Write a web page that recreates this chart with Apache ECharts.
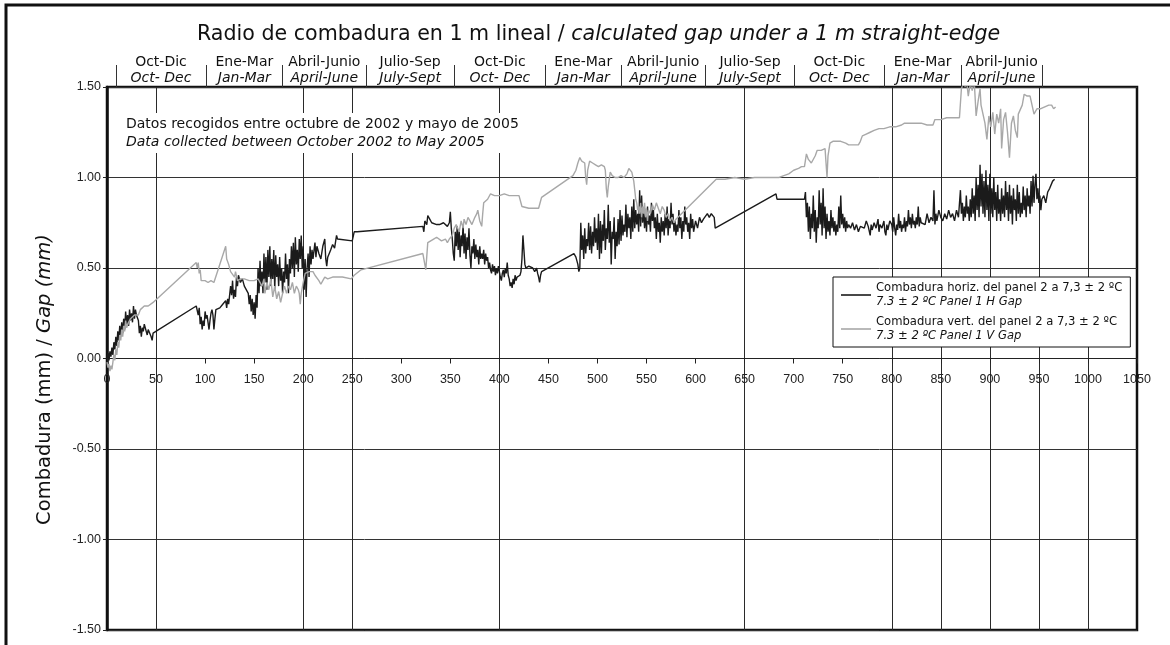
<!DOCTYPE html>
<html>
<head>
<meta charset="utf-8">
<script src="https://cdn.jsdelivr.net/npm/echarts@6/dist/echarts.min.js"></script>
<style>
  html, body { margin: 0; padding: 0; background: #fff; }
  #gap_chart { width: 1170px; height: 645px; }
</style>
</head>
<body>
<div id="gap_chart"></div>
<script>
// limites de los trimestres (eje superior), en dias
const quarterBounds = [9, 101, 179, 264, 354, 447, 524, 610, 701, 792, 871, 953];
const quarterEs = ['Oct-Dic', 'Ene-Mar', 'Abril-Junio', 'Julio-Sep', 'Oct-Dic', 'Ene-Mar', 'Abril-Junio', 'Julio-Sep', 'Oct-Dic', 'Ene-Mar', 'Abril-Junio'];
const quarterEn = ['Oct- Dec', 'Jan-Mar', 'April-June', 'July-Sept', 'Oct- Dec', 'Jan-Mar', 'April-June', 'July-Sept', 'Oct- Dec', 'Jan-Mar', 'April-June'];

// lineas verticales del grafico
const gridLineXs = [50, 200, 250, 400, 650, 800, 850, 900, 950, 1000];

// Combadura horiz. del panel 2 (dia, mm)
const horizGap = [
  [0,0.00],[1,0.03],[2,-0.01],[3,0.04],[4,0.01],[5,0.06],[6,0.02],[7,0.09],[8,0.05],[9,0.12],[10,0.07],[11,0.15],[12,0.10],[13,0.18],[14,0.12],[15,0.20],[16,0.14],[17,0.22],[18,0.16],[19,0.26],[20,0.19],[21,0.24],[22,0.18],[23,0.27],[24,0.21],[25,0.25],[26,0.20],[27,0.29],[28,0.22],[29,0.27],[30,0.24],[32,0.21],[33,0.14],[34,0.18],[35,0.12],[36,0.17],[37,0.15],[38,0.19],[40,0.18],[41,0.13],[42,0.16],[44,0.17],[45,0.12],[46,0.10],[47,0.14],
  [91,0.29],[93,0.24],[94,0.28],[95,0.19],[96,0.23],[97,0.16],[98,0.21],[99,0.18],[100,0.26],[101,0.22],[102,0.24],[103,0.20],[104,0.16],[105,0.21],[106,0.25],[107,0.27],[108,0.24],[109,0.16],[110,0.22],[111,0.27],[112,0.26],[115,0.28],[118,0.30],[121,0.32],[122,0.28],[123,0.33],[124,0.30],[126,0.40],[127,0.35],[128,0.43],[129,0.33],[130,0.38],[131,0.34],[132,0.45],[133,0.40],[134,0.46],[136,0.42],[138,0.44],[140,0.40],[142,0.39],[144,0.36],[145,0.30],[146,0.35],[147,0.26],[148,0.33],[149,0.24],[150,0.31],[151,0.22],[152,0.35],[153,0.28],[154,0.50],[155,0.36],[156,0.54],[157,0.40],[158,0.48],[159,0.36],[160,0.58],[161,0.42],[162,0.56],[163,0.38],[164,0.60],[165,0.45],[166,0.62],[167,0.40],[168,0.55],[169,0.44],[170,0.60],[171,0.38],[172,0.57],[173,0.45],[174,0.52],[175,0.40],[176,0.56],[177,0.43],[178,0.50],[179,0.36],[180,0.48],[181,0.42],[182,0.58],[183,0.44],[184,0.52],[185,0.36],[186,0.55],[187,0.47],[188,0.62],[189,0.50],[190,0.64],[191,0.45],[192,0.67],[193,0.52],[194,0.60],[195,0.48],[196,0.66],[197,0.55],[198,0.68],[199,0.50],[200,0.62],[201,0.38],[202,0.55],[203,0.34],[204,0.50],[205,0.58],[206,0.45],[207,0.62],[208,0.52],[209,0.60],[210,0.55],[212,0.64],[213,0.56],[214,0.62],[216,0.58],[218,0.55],[220,0.62],[222,0.66],[223,0.55],[224,0.51],[225,0.56],[226,0.55],[228,0.60],[230,0.63],[232,0.61],[234,0.68],[235,0.66],[236,0.65],[250,0.65],[251,0.66],[252,0.70],[255,0.70],
  [322,0.73],[323,0.70],[324,0.76],[326,0.74],[327,0.79],[329,0.77],[331,0.75],[333,0.76],[336,0.74],[339,0.74],[341,0.73],[343,0.75],[345,0.74],[347,0.73],[349,0.75],[350,0.81],[351,0.72],[352,0.66],[353,0.58],[354,0.54],[355,0.70],[356,0.62],[357,0.73],[358,0.60],[359,0.71],[360,0.56],[361,0.68],[362,0.62],[363,0.74],[364,0.58],[365,0.69],[366,0.55],[367,0.67],[368,0.60],[369,0.72],[370,0.57],[371,0.50],[372,0.62],[373,0.58],[374,0.66],[375,0.55],[376,0.63],[377,0.56],[378,0.60],[379,0.52],[380,0.62],[381,0.55],[382,0.58],[383,0.55],[384,0.60],[385,0.52],[386,0.58],[387,0.54],[388,0.56],[389,0.50],[390,0.53],[391,0.49],[392,0.47],[393,0.52],[394,0.48],[395,0.51],[396,0.46],[397,0.50],[398,0.47],[399,0.51],[400,0.48],[401,0.45],[402,0.43],[403,0.47],[404,0.49],[405,0.45],[406,0.50],[407,0.47],[408,0.53],[409,0.46],[410,0.44],[411,0.40],[412,0.42],[413,0.39],[414,0.44],[415,0.41],[416,0.46],[417,0.43],[418,0.45],[419,0.44],[420,0.45],[421,0.46],[422,0.48],[423,0.55],[424,0.68],[425,0.60],[426,0.52],[427,0.50],[428,0.50],[430,0.51],[432,0.52],[434,0.50],[436,0.48],[438,0.50],[439,0.47],[440,0.45],[441,0.42],[442,0.46],[443,0.48],[445,0.48],
  [476,0.58],[478,0.56],[480,0.52],[481,0.48],[482,0.50],[483,0.75],[484,0.60],[485,0.68],[486,0.55],[487,0.72],[488,0.58],[489,0.66],[490,0.62],[491,0.75],[492,0.60],[493,0.73],[494,0.58],[495,0.70],[496,0.62],[497,0.78],[498,0.64],[499,0.72],[500,0.60],[501,0.80],[502,0.55],[503,0.76],[504,0.58],[505,0.74],[506,0.65],[507,0.82],[508,0.60],[509,0.72],[510,0.66],[511,0.85],[512,0.64],[513,0.76],[514,0.52],[515,0.70],[516,0.66],[517,0.78],[518,0.55],[519,0.70],[520,0.62],[521,0.77],[522,0.63],[523,0.82],[524,0.65],[525,0.79],[526,0.68],[527,0.74],[528,0.70],[529,0.85],[530,0.67],[531,0.80],[532,0.72],[533,0.78],[534,0.66],[535,0.84],[536,0.70],[537,0.88],[538,0.72],[539,0.82],[540,0.74],[541,0.80],[542,0.70],[543,0.93],[544,0.73],[545,0.90],[546,0.75],[547,0.82],[548,0.72],[549,0.80],[550,0.70],[551,0.84],[552,0.74],[553,0.79],[554,0.70],[555,0.86],[556,0.76],[557,0.82],[558,0.72],[559,0.78],[560,0.66],[561,0.80],[562,0.70],[563,0.75],[564,0.64],[565,0.78],[566,0.70],[567,0.76],[568,0.68],[569,0.80],[570,0.72],[571,0.84],[572,0.68],[573,0.77],[574,0.72],[575,0.86],[576,0.74],[577,0.80],[578,0.70],[579,0.76],[580,0.68],[581,0.74],[582,0.70],[583,0.82],[584,0.72],[585,0.78],[586,0.66],[587,0.76],[588,0.70],[589,0.84],[590,0.74],[591,0.78],[592,0.70],[593,0.75],[594,0.66],[595,0.80],[596,0.72],[597,0.77],[598,0.70],[600,0.76],[602,0.72],[604,0.78],[606,0.75],[608,0.77],[610,0.76],[612,0.80],[614,0.78],[616,0.80],[618,0.79],[619,0.78],[620,0.72],[621,0.73],
  [682,0.91],[683,0.88],[711,0.88],[712,0.92],[713,0.78],[714,0.86],[715,0.70],[716,0.84],[717,0.66],[718,0.80],[719,0.72],[720,0.90],[721,0.70],[722,0.82],[723,0.64],[724,0.78],[725,0.72],[726,0.93],[727,0.74],[728,0.86],[729,0.68],[730,0.94],[731,0.72],[732,0.84],[733,0.66],[734,0.80],[735,0.70],[736,0.76],[737,0.68],[738,0.82],[739,0.72],[740,0.78],[741,0.70],[742,0.76],[743,0.68],[744,0.74],[745,0.70],[746,0.84],[747,0.72],[748,0.90],[749,0.74],[750,0.80],[751,0.72],[752,0.78],[753,0.70],[754,0.76],[755,0.72],[756,0.74],[758,0.72],[760,0.75],[762,0.71],[764,0.74],[766,0.70],[768,0.73],[770,0.74],[772,0.72],[774,0.76],[776,0.73],[778,0.68],[779,0.74],[780,0.71],[782,0.75],[784,0.72],[786,0.77],[787,0.70],[788,0.74],[790,0.72],[792,0.76],[793,0.70],[794,0.68],[795,0.74],[796,0.71],[798,0.76],[800,0.74],[801,0.70],[802,0.78],[803,0.72],[804,0.68],[805,0.74],[806,0.71],[807,0.80],[808,0.72],[809,0.76],[810,0.70],[811,0.74],[812,0.72],[813,0.78],[814,0.70],[815,0.76],[816,0.73],[817,0.82],[818,0.74],[819,0.78],[820,0.72],[821,0.80],[822,0.74],[823,0.76],[824,0.72],[825,0.78],[826,0.74],[827,0.84],[828,0.73],[829,0.78],[830,0.75],[832,0.76],[834,0.74],[836,0.80],[838,0.75],[840,0.78],[842,0.76],[843,0.93],[844,0.74],[845,0.80],[846,0.76],[848,0.82],[850,0.78],[852,0.76],[854,0.80],[856,0.77],[858,0.82],[860,0.78],[862,0.80],[864,0.76],[866,0.82],[868,0.78],[870,0.93],[871,0.80],[872,0.86],[873,0.76],[874,0.84],[875,0.78],[876,0.90],[877,0.80],[878,0.84],[879,0.76],[880,0.88],[881,0.78],[882,0.94],[883,0.80],[884,0.90],[885,0.76],[886,1.00],[887,0.82],[888,0.96],[889,0.78],[890,1.07],[891,0.84],[892,1.02],[893,0.80],[894,0.98],[895,0.78],[896,1.04],[897,0.82],[898,0.96],[899,0.76],[900,1.02],[901,0.80],[902,0.94],[903,0.78],[904,1.00],[905,0.82],[906,0.92],[907,0.76],[908,0.96],[909,0.80],[910,0.88],[911,0.76],[912,0.94],[913,0.80],[914,0.90],[915,0.78],[916,0.98],[917,0.82],[918,0.92],[919,0.76],[920,0.96],[921,0.80],[922,0.90],[923,0.74],[924,0.94],[925,0.82],[926,0.88],[927,0.76],[928,0.96],[929,0.80],[930,0.92],[931,0.78],[932,0.86],[933,0.80],[934,0.95],[935,0.82],[936,0.90],[937,0.78],[938,0.94],[939,0.84],[940,0.90],[941,0.80],[942,0.98],[943,0.84],[944,1.01],[945,0.86],[946,0.96],[947,1.02],[948,0.88],[949,0.94],[950,0.86],[951,0.90],[952,0.82],[953,0.88],[955,0.90],[957,0.86],[959,0.92],[961,0.94],[963,0.93],[964,0.98],[966,0.99]
];

// Combadura vert. del panel 2 (dia, mm)
const vertGap = [
  [0,-0.02],[1,-0.05],[2,-0.03],[3,-0.07],[4,-0.04],[5,-0.06],[6,-0.02],[7,0.02],[8,-0.01],[9,0.05],[10,0.02],[11,0.09],[12,0.06],[13,0.13],[14,0.10],[15,0.16],[16,0.12],[17,0.18],[18,0.15],[19,0.21],[20,0.17],[22,0.20],[24,0.22],[26,0.21],[28,0.24],[30,0.25],[32,0.24],[34,0.27],[36,0.28],[38,0.29],[40,0.30],[42,0.29],[44,0.30],[47,0.31],
  [91,0.53],[92,0.50],[93,0.53],[94,0.47],[95,0.49],[96,0.43],[98,0.42],[100,0.43],[103,0.42],[106,0.43],[109,0.42],[121,0.62],[122,0.55],[124,0.52],[126,0.48],[128,0.47],[130,0.45],[131,0.48],[133,0.43],[136,0.44],[140,0.44],[145,0.43],[150,0.43],[154,0.44],[156,0.45],[158,0.40],[160,0.44],[161,0.36],[163,0.42],[165,0.38],[167,0.44],[169,0.34],[171,0.40],[173,0.33],[175,0.37],[177,0.31],[179,0.36],[181,0.40],[183,0.36],[185,0.40],[187,0.38],[189,0.42],[191,0.36],[193,0.40],[195,0.38],[196,0.36],[197,0.30],[198,0.36],[200,0.42],[202,0.47],[204,0.46],[206,0.48],[208,0.47],[210,0.48],[212,0.46],[214,0.45],[216,0.43],[218,0.41],[220,0.43],[222,0.45],[225,0.44],[230,0.45],[240,0.45],[249,0.44],[252,0.46],[259,0.49],
  [322,0.58],[324,0.58],[325,0.49],[326,0.48],[327,0.64],[330,0.65],[333,0.66],[336,0.67],[338,0.67],[341,0.65],[343,0.65],[345,0.66],[347,0.64],[349,0.66],[350,0.66],[352,0.68],[354,0.72],[356,0.74],[357,0.75],[359,0.70],[361,0.76],[363,0.72],[364,0.77],[366,0.74],[368,0.78],[370,0.76],[372,0.74],[373,0.75],[375,0.78],[377,0.80],[378,0.82],[380,0.76],[382,0.73],[383,0.80],[384,0.86],[386,0.85],[388,0.88],[389,0.89],[391,0.91],[395,0.90],[400,0.90],[405,0.91],[410,0.90],[415,0.90],[420,0.90],[421,0.89],[423,0.84],[425,0.83],[430,0.83],[435,0.83],[440,0.83],[442,0.87],[443,0.89],
  [475,1.01],[478,1.04],[480,1.08],[482,1.11],[484,1.09],[486,1.10],[487,1.08],[488,1.00],[489,0.96],[490,1.04],[492,1.09],[495,1.08],[498,1.07],[501,1.06],[504,1.07],[507,1.06],[508,1.04],[509,0.94],[510,0.89],[511,0.95],[513,1.03],[515,1.01],[518,1.00],[521,1.00],[524,1.01],[527,1.00],[530,1.02],[532,1.05],[535,1.03],[537,0.98],[538,0.93],[539,0.88],[540,0.86],[541,0.82],[542,0.84],[543,0.80],[544,0.86],[545,0.78],[546,0.84],[547,0.80],[548,0.86],[549,0.78],[550,0.83],[551,0.76],[552,0.82],[554,0.80],[556,0.85],[558,0.82],[560,0.86],[562,0.83],[564,0.80],[566,0.84],[568,0.82],[570,0.78],[572,0.80],[574,0.76],[576,0.78],[578,0.75],[580,0.77],
  [621,0.99],[630,0.99],[640,1.00],[650,0.99],[660,1.00],[670,1.00],[682,1.00],[685,1.00],[690,1.01],[695,1.02],[700,1.04],[705,1.05],[708,1.06],[711,1.06],[713,1.13],[715,1.10],[718,1.08],[720,1.07],[722,1.12],[724,1.15],[726,1.14],[728,1.15],[730,1.16],[732,1.16],[733,1.08],[734,1.00],[735,1.12],[737,1.19],[740,1.20],[743,1.20],[745,1.21],[748,1.20],[750,1.19],[753,1.19],[756,1.18],[760,1.18],[763,1.18],[766,1.18],[768,1.20],[770,1.23],[774,1.24],[778,1.25],[782,1.26],[787,1.27],[792,1.27],[798,1.28],[804,1.28],[810,1.29],[813,1.30],[818,1.30],[824,1.30],[830,1.30],[836,1.29],[842,1.29],[844,1.32],[850,1.32],[856,1.33],[862,1.33],[869,1.33],[871,1.49],[873,1.52],[875,1.50],[876,1.55],[878,1.45],[880,1.52],[882,1.48],[884,1.54],[886,1.34],[888,1.42],[890,1.49],[891,1.40],[893,1.41],[895,1.30],[897,1.21],[899,1.34],[901,1.28],[903,1.36],[905,1.24],[907,1.35],[909,1.30],[911,1.38],[912,1.16],[914,1.32],[916,1.36],[918,1.25],[920,1.11],[922,1.30],[924,1.34],[926,1.26],[928,1.22],[929,1.35],[931,1.36],[933,1.40],[935,1.46],[938,1.45],[941,1.45],[943,1.45],[945,1.35],[947,1.36],[948,1.38],[952,1.38],[956,1.39],[960,1.40],[963,1.40],[965,1.38],[967,1.39]
];

const quarterMids = quarterBounds.slice(1).map((b, i) => (b + quarterBounds[i]) / 2);

const sans = 'DejaVu Sans';
const arial = 'Liberation Sans';

const chart = echarts.init(document.getElementById('gap_chart'));

const option = {
  animation: false,
  backgroundColor: '#fff',
  title: {
    left: 192,
    top: 19,
    text: '{a|Radio de combadura en 1 m lineal / }{b|calculated gap under a 1 m straight-edge}',
    textStyle: {
      fontWeight: 'normal',
      rich: {
        a: { fontFamily: sans, fontSize: 20.6, fontWeight: 'normal', color: '#111' },
        b: { fontFamily: sans, fontSize: 20.6, fontWeight: 'normal', fontStyle: 'italic', color: '#111' }
      }
    }
  },
  legend: {
    orient: 'vertical',
    left: 833,
    top: 277,
    icon: 'rect',
    itemWidth: 30,
    itemHeight: 1.6,
    itemGap: 8,
    padding: [5, 8, 5, 8],
    backgroundColor: '#fff',
    borderColor: '#111',
    borderWidth: 1,
    borderRadius: 0,
    formatter: (name) => {
      const en = name.indexOf('horiz') > -1 ? '7.3 ± 2 ºC Panel 1 H Gap' : '7.3 ± 2 ºC Panel 1 V Gap';
      return '{a|' + name + '}\n{b|' + en + '}';
    },
    textStyle: {
      rich: {
        a: { fontFamily: sans, fontSize: 11.6, lineHeight: 14, color: '#111' },
        b: { fontFamily: sans, fontSize: 11.6, lineHeight: 14, fontStyle: 'italic', color: '#111' }
      }
    }
  },
  graphic: [
    {
      type: 'rect',
      silent: true,
      shape: { x: 6, y: 5, width: 1300, height: 800 },
      style: { fill: 'none', stroke: '#111', lineWidth: 3 }
    },
    {
      type: 'text',
      left: 122,
      top: 113,
      z: 10,
      style: {
        text: '{a|Datos recogidos entre octubre de 2002 y mayo de 2005}\n{b|Data collected between October 2002 to May 2005}',
        backgroundColor: '#fff',
        padding: [2, 4, 2, 4],
        rich: {
          a: { fontFamily: sans, fontSize: 14, lineHeight: 18, fill: '#111' },
          b: { fontFamily: sans, fontSize: 14, lineHeight: 18, fontStyle: 'italic', fill: '#111' }
        }
      }
    }
  ],
  grid: {
    left: 107,
    right: 33,
    top: 87,
    bottom: 15,
    show: true,
    borderColor: '#111',
    borderWidth: 2.5
  },
  xAxis: [
    {
      // eje en y = 0 (la mitad del grafico)
      type: 'value',
      min: 0,
      max: 1050,
      interval: 50,
      offset: -271.5,
      axisLine: { onZero: false, lineStyle: { color: '#222', width: 1 } },
      axisTick: { show: true, length: 5, lineStyle: { color: '#222' } },
      axisLabel: { fontFamily: arial, fontSize: 12.5, color: '#222', margin: 15, formatter: (v) => String(v) },
      splitLine: { show: false }
    },
    {
      type: 'value',
      position: 'top',
      min: 0,
      max: 1050,
      axisLine: { show: false, onZero: false },
      axisTick: { show: true, length: 22, customValues: quarterBounds, lineStyle: { color: '#333', width: 1 } },
      axisLabel: {
        show: true,
        interval: 0,
        margin: 1,
        customValues: quarterMids,
        formatter: (value) => {
          const i = quarterMids.findIndex((m) => Math.abs(m - value) < 0.01);
          if (i < 0) return '';
          return '{a|' + quarterEs[i] + '}\n{b|' + quarterEn[i] + '}';
        },
        rich: {
          a: { fontFamily: sans, fontSize: 14, lineHeight: 16, color: '#111' },
          b: { fontFamily: sans, fontSize: 14, lineHeight: 16, fontStyle: 'italic', color: '#111' }
        }
      },
      splitLine: { show: false }
    },
    {
      // solo para las lineas verticales
      type: 'value',
      position: 'top',
      min: 0,
      max: 1050,
      axisLine: { show: false, onZero: false },
      axisTick: { show: false, customValues: gridLineXs },
      axisLabel: { show: false },
      splitLine: { show: true, lineStyle: { color: '#2a2a2a', width: 1 } }
    }
  ],
  yAxis: {
    type: 'value',
    min: -1.5,
    max: 1.5,
    interval: 0.5,
    name: '{a|Combadura (mm) / }{b|Gap (mm)}',
    nameLocation: 'middle',
    nameRotate: 90,
    nameGap: 52,
    nameTextStyle: {
      padding: [0, 42, 0, 0],
      rich: {
        a: { fontFamily: sans, fontSize: 19.5, color: '#111' },
        b: { fontFamily: sans, fontSize: 19.5, fontStyle: 'italic', color: '#111' }
      }
    },
    axisLine: { show: true, onZero: false, lineStyle: { color: '#111', width: 2.5 } },
    axisTick: { show: true, length: 4, lineStyle: { color: '#222' } },
    axisLabel: {
      fontFamily: arial,
      fontSize: 12.5,
      color: '#222',
      margin: 6,
      formatter: (v) => v.toFixed(2)
    },
    splitLine: { show: true, lineStyle: { color: '#333', width: 1 } }
  },
  series: [
    {
      name: 'Combadura horiz. del panel 2 a 7,3 ± 2 ºC',
      type: 'line',
      xAxisIndex: 0,
      data: horizGap,
      symbol: 'none',
      showSymbol: false,
      lineStyle: { color: '#1b1b1b', width: 1.4 },
      itemStyle: { color: '#1b1b1b' },
      z: 3
    },
    {
      name: 'Combadura vert. del panel 2 a 7,3 ± 2 ºC',
      type: 'line',
      xAxisIndex: 0,
      data: vertGap,
      symbol: 'none',
      showSymbol: false,
      lineStyle: { color: '#a8a8a8', width: 1.4 },
      itemStyle: { color: '#a8a8a8' },
      z: 4
    }
  ]
};

chart.setOption(option);
</script>
</body>
</html>
